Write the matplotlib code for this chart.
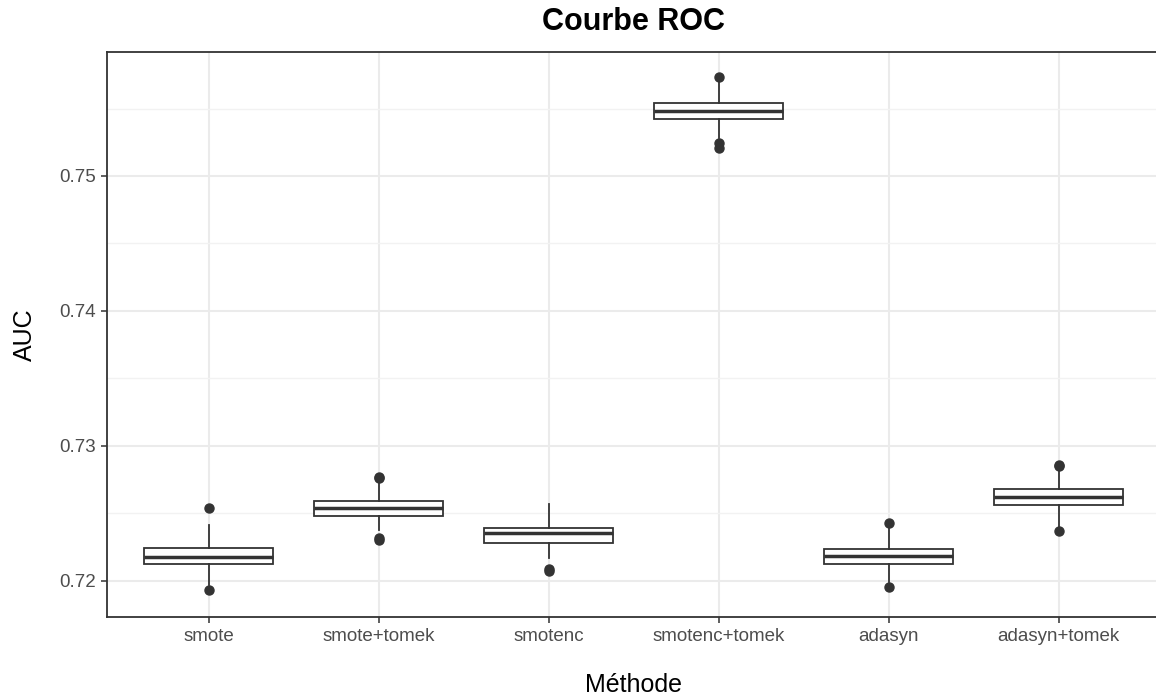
import matplotlib
matplotlib.use("Agg")
import matplotlib.pyplot as plt
from matplotlib.ticker import MultipleLocator

plt.rcParams['font.family'] = ['Liberation Sans', 'DejaVu Sans']

methods = ["smote", "smote+tomek", "smotenc", "smotenc+tomek", "adasyn", "adasyn+tomek"]
q1 = [0.72122, 0.72482, 0.72277, 0.75420, 0.72122, 0.72561]
med = [0.72178, 0.72541, 0.72351, 0.75484, 0.72183, 0.72623]
q3 = [0.72240, 0.72593, 0.72393, 0.75543, 0.72235, 0.72678]
whislo = [0.71970, 0.72376, 0.72166, 0.75280, 0.71990, 0.72400]
whishi = [0.72413, 0.72727, 0.72566, 0.75697, 0.72400, 0.72820]
fliers = [
    [0.72537, 0.71931],
    [0.72764, 0.72772, 0.72314, 0.72300],
    [0.72085, 0.72072],
    [0.75736, 0.75245, 0.75208],
    [0.72425, 0.71956],
    [0.72858, 0.72850, 0.72368],
]
yticks = [0.72, 0.73, 0.74, 0.75]

fig = plt.figure(figsize=(11.56, 6.98), dpi=100)
W, H = 1156, 698
left, right, top, bottom = 106.7, 1160.7, 52, 616.7
ax = fig.add_axes([left / W, 1 - bottom / H, (right - left) / W, (bottom - top) / H])

stats = []
for i, m in enumerate(methods):
    stats.append(dict(label=m, q1=q1[i], med=med[i], q3=q3[i],
                      whislo=whislo[i], whishi=whishi[i], fliers=fliers[i]))

dark = "#333333"
ax.bxp(stats, positions=range(1, len(methods) + 1), widths=0.76,
       showcaps=False, patch_artist=True,
       boxprops=dict(facecolor="white", edgecolor=dark, linewidth=1.3),
       medianprops=dict(color=dark, linewidth=2.5),
       whiskerprops=dict(color=dark, linewidth=1.3),
       flierprops=dict(marker="o", markerfacecolor=dark, markeredgecolor=dark,
                       markersize=6.5, linestyle="none"),
       zorder=3)

ax.set_xlim(0.4, len(methods) + 0.6)
ax.set_ylim(0.71733, 0.75919)
ax.set_yticks(yticks)
ax.set_yticklabels([f"{v:.2f}" for v in yticks])
ax.yaxis.set_minor_locator(MultipleLocator(0.005))
ax.set_xticks(range(1, len(methods) + 1))
ax.set_xticklabels(methods)

ax.grid(True, which="major", color="#EBEBEB", linewidth=1.5, zorder=0)
ax.grid(True, which="minor", axis="y", color="#F2F2F2", linewidth=1.0, zorder=0)
ax.set_axisbelow(True)

for s in ax.spines.values():
    s.set_color(dark)
    s.set_linewidth(1.3)

ax.tick_params(axis="both", which="major", colors=dark, length=4, width=1.1,
               labelsize=13.5, labelcolor="#4D4D4D", pad=4)
ax.tick_params(axis="y", which="minor", length=0)

ax.set_ylabel("AUC", fontsize=18, color="black", labelpad=16)
ax.set_xlabel("Méthode", fontsize=18, color="black", labelpad=20)
fig.text((left + right) / 2 / W, 1 - 22 / H, "Courbe ROC", ha="center", va="center",
         fontsize=22, fontweight="bold", color="black")

fig.savefig("out.png", dpi=100, facecolor="white")
